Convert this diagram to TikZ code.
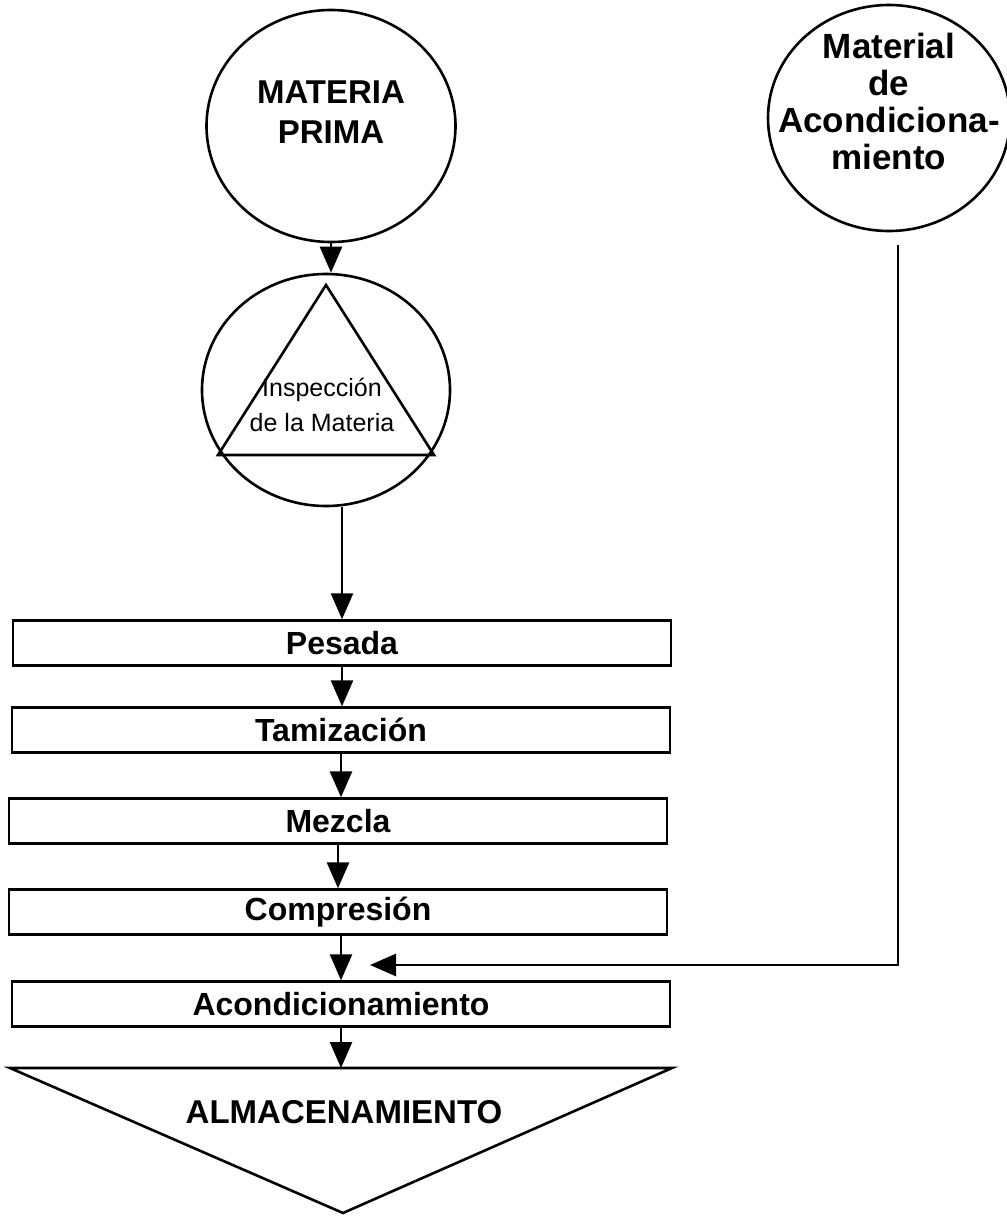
\documentclass[tikz,border=0pt]{standalone}
\usepackage{fontspec}
\setmainfont{Liberation Sans}
\usetikzlibrary{arrows.meta,shapes.geometric}

\tikzset{
  flow/.style={line width=1.3pt, -{Triangle[width=11pt,length=13pt]}},
  stage/.style={draw, line width=1.2pt, minimum width=329pt, minimum height=22.5pt,
    inner sep=0pt, font=\fontsize{16}{18}\selectfont\bfseries},
  source/.style={draw, ellipse, line width=1.3pt, inner sep=0pt}
}

\begin{document}
\begin{tikzpicture}[x=0.5pt, y=-0.5pt]
    \useasboundingbox (0,0) rectangle (1007,1216);

    % materia prima
    \node[source, minimum width=124.5pt, minimum height=116pt] (mp) at (331,126) {};
    \node[align=center, font=\fontsize{16.5}{20}\selectfont\bfseries] (mptext) at (331,112)
      {MATERIA\\PRIMA};

    % inspeccion
    \node[source, minimum width=124pt, minimum height=116pt] (insp) at (326,390) {};
    \draw[line width=1.3pt] (326,285) -- (218,455) -- (434,455) -- cycle;
    \node[align=center, font=\fontsize{12.5}{17.5}\selectfont] (insptext) at (322,405)
      {Inspección\\de la Materia};

    % material de acondicionamiento
    \node[source, minimum width=121pt, minimum height=113pt] (mat) at (889,118) {};
    \node[align=center, font=\fontsize{17.5}{18.5}\selectfont\bfseries] (mattext) at (889,101)
      {Material\\de\\Acondiciona-\\miento};

    % etapas
    \node[stage] (pesada) at (342,643) {Pesada};
    \node[stage] (tamiz) at (341,730) {Tamización};
    \node[stage] (mezcla) at (338,821) {Mezcla};
    \node[stage] (compr) at (338,912) {Compresión};
    \node[stage] (acond) at (341,1004) {Acondicionamiento};

    % almacenamiento
    \draw[line width=1.3pt] (10,1068) -- (672,1068) -- (343,1213) -- cycle;
    \coordinate (almtop) at (343,1068);
    \node[font=\fontsize{16.5}{18}\selectfont\bfseries] (alm) at (344,1112) {ALMACENAMIENTO};

    % flechas
    \draw[flow] (mp.south) -- (mp.south |- insp.north);
    \draw[flow] (pesada.north |- insp.south) -- (pesada.north);
    \draw[flow] (pesada.south) -- (pesada.south |- tamiz.north);
    \draw[flow] (tamiz.south) -- (tamiz.south |- mezcla.north);
    \draw[flow] (mezcla.south) -- (compr.north);
    \draw[flow] (acond.north |- compr.south) -- (acond.north);
    \draw[flow] (acond.south) -- (acond.south |- almtop);

    % entrada del material
    \coordinate (feedtop) at (898,245);
    \coordinate (feedend) at (370,965);
    \draw[flow] (feedtop) |- (feedend);
\end{tikzpicture}
\end{document}
